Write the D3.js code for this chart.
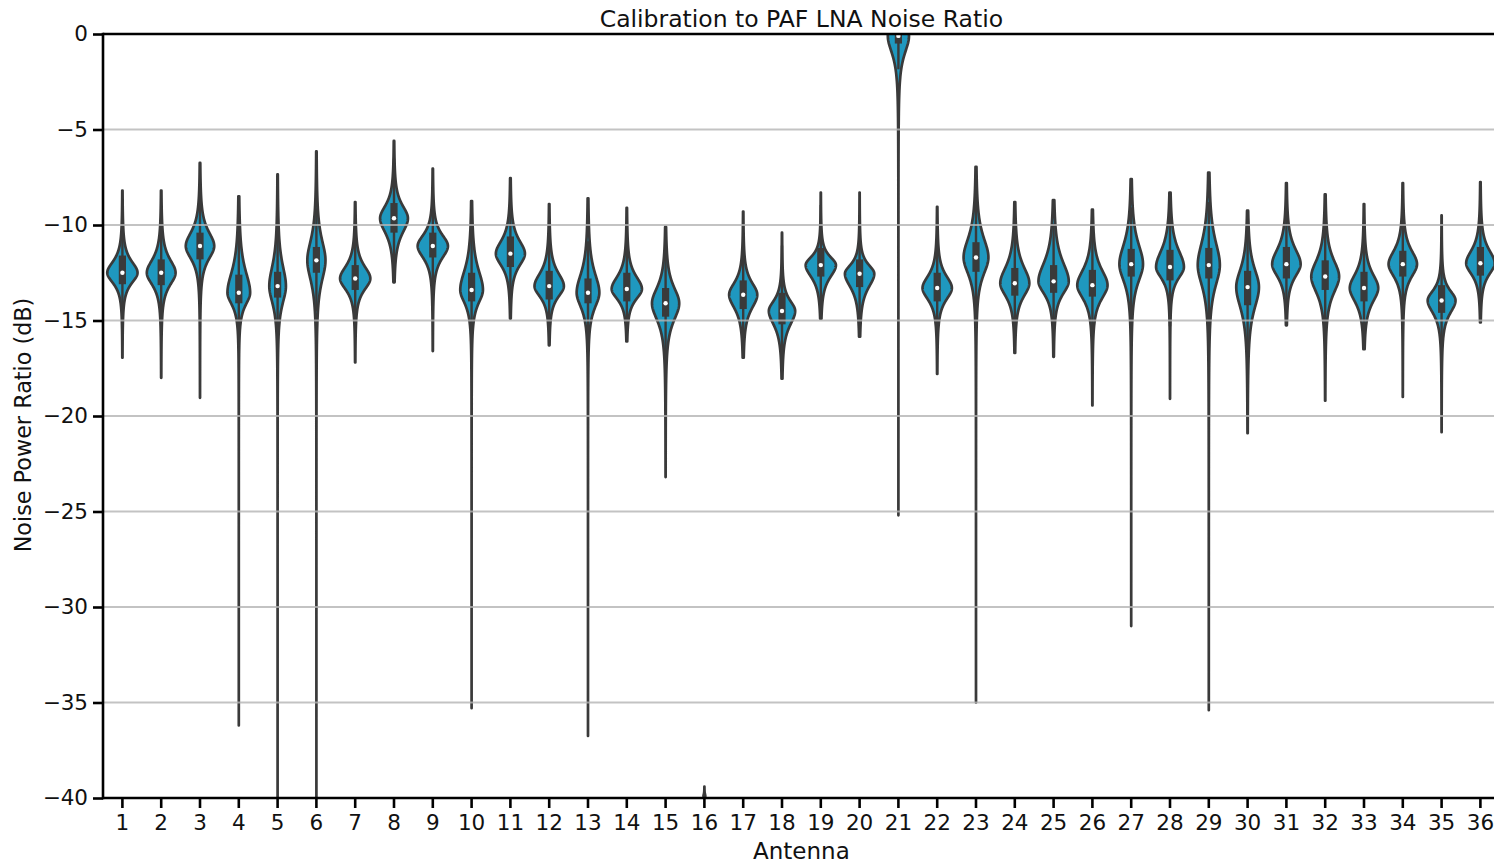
<!DOCTYPE html>
<html>
<head>
<meta charset="utf-8">
<script src="https://cdn.jsdelivr.net/npm/d3@7"></script>
<style>
  html, body { margin: 0; padding: 0; background: #ffffff; }
  svg { display: block; font-family: "DejaVu Sans", sans-serif; }
</style>
</head>
<body>
<svg id="chart" width="1494" height="867"></svg>
<script>
// ---------------- data ----------------
const antennas = ["1","2","3","4","5","6","7","8","9","10","11","12","13","14","15","16","17","18",
                  "19","20","21","22","23","24","25","26","27","28","29","30","31","32","33","34","35","36"];
const yTicks = [0, -5, -10, -15, -20, -25, -30, -35, -40];

const medians = [-12.5,-12.5,-11.1,-13.55,-13.2,-11.85,-12.8,-9.65,-11.1,-13.4,-11.5,-13.2,-13.55,-13.35,-14.1,-39.9,
                 -13.65,-14.5,-12.1,-12.55,-0.1,-13.3,-11.7,-13.05,-12.95,-13.15,-12.05,-12.2,-12.1,-13.25,-12.05,-12.7,-13.3,-12.05,-13.95,-12.0];
const q3s = [-11.6,-11.8,-10.4,-12.6,-12.45,-11.15,-12.1,-8.85,-10.4,-12.5,-10.6,-12.4,-12.8,-12.5,-13.3,-39.8,
             -12.9,-13.55,-11.2,-11.8,0.4,-12.5,-10.9,-12.25,-12.1,-12.35,-11.25,-11.3,-11.2,-12.4,-11.15,-11.85,-12.45,-11.35,-13.15,-11.15];
const q1s = [-13.1,-13.15,-11.8,-14.1,-13.8,-12.5,-13.4,-10.4,-11.7,-14.0,-12.2,-13.9,-14.1,-14.0,-14.8,-39.95,
             -14.4,-15.2,-12.7,-13.25,-0.5,-14.0,-12.45,-13.7,-13.55,-13.75,-12.7,-12.9,-12.8,-14.2,-12.8,-13.4,-14.0,-12.7,-14.6,-12.65];
const maxs = [-8.2,-8.2,-6.75,-8.5,-7.35,-6.15,-8.8,-5.6,-7.05,-8.75,-7.55,-8.9,-8.6,-9.1,-10.1,-39.4,
              -9.3,-10.4,-8.3,-8.3,1.5,-9.05,-6.95,-8.8,-8.7,-9.2,-7.6,-8.3,-7.25,-9.25,-7.8,-8.4,-8.9,-7.8,-9.5,-7.75];
const mins = [-16.95,-18.0,-19.05,-36.2,-45,-45,-17.2,-13.0,-16.6,-35.3,-14.9,-16.3,-36.75,-16.1,-23.2,-40.5,
              -16.95,-18.05,-14.9,-15.85,-25.2,-17.8,-35.0,-16.7,-16.9,-19.45,-31.0,-19.1,-35.4,-20.9,-15.25,-19.2,-16.5,-19.0,-20.85,-15.1];
// where the violin body narrows into its upper / lower tail
const upperNecks = [-11.3,-11.1,-9.6,-11.3,-11.0,-9.7,-11.5,-8.3,-9.9,-11.3,-10.1,-11.8,-11.5,-12.0,-12.4,-39.7,
                    -12.35,-13.4,-11.2,-11.6,1.0,-12.0,-9.6,-11.3,-10.9,-11.5,-9.9,-10.4,-9.6,-11.3,-10.4,-10.95,-11.8,-10.6,-12.9,-10.6];
const lowerNecks = [-13.6,-13.8,-12.5,-14.8,-15.0,-14.0,-14.0,-11.2,-12.4,-14.8,-12.8,-14.35,-15.1,-14.45,-15.9,-40.0,
                    -15.1,-16.0,-13.4,-14.0,-1.9,-14.55,-13.5,-14.45,-14.3,-14.6,-13.9,-13.4,-14.3,-15.5,-13.4,-14.45,-14.8,-13.4,-15.3,-13.2];
// relative peak density (violin width)
const widths = [1.0,0.95,0.94,0.75,0.55,0.6,1.0,0.92,1.0,0.75,0.96,0.97,0.75,1.0,0.9,0.06,
                0.93,0.87,1.0,0.97,0.7,0.97,0.82,0.96,1.0,1.0,0.78,0.92,0.73,0.75,0.94,0.92,0.94,0.94,0.92,0.94];

(function () {
// ---------------- layout ----------------
const W = 1494, H = 867;
const mLeft = 103, mTop = 34, mBottom = 798;
const bandW = 38.8;
const mRight = mLeft + bandW * antennas.length;

const svg = d3.select("#chart");

const x = d3.scaleBand().domain(antennas).range([mLeft, mRight]).padding(0);
const y = d3.scaleLinear().domain([-40, 0]).range([mBottom, mTop]);

const fillColor = "#1f98bf";
const lineColor = "#3a3a3a";

svg.append("defs").append("clipPath").attr("id", "plotclip")
  .append("rect").attr("x", mLeft).attr("y", mTop).attr("width", W - mLeft).attr("height", mBottom - mTop);

// violins
const maxHalf = 0.39 * x.bandwidth();
const NECK_Z = 1.74;
const shape = z => Math.pow(1 + z * z / 2, -1.5);

const data = antennas.map((a, i) => ({
  a, med: medians[i], q1: q1s[i], q3: q3s[i], lo: mins[i], hi: maxs[i],
  sUp: Math.max(0.05, (upperNecks[i] - medians[i]) / NECK_Z),
  sDn: Math.max(0.05, (medians[i] - lowerNecks[i]) / NECK_Z),
  w: widths[i]
}));

const plot = svg.append("g").attr("clip-path", "url(#plotclip)");

data.forEach(d => {
  const cx = x(d.a) + x.bandwidth() / 2;
  const n = 400;
  const pts = d3.range(n + 1).map(k => {
    const v = d.lo + (d.hi - d.lo) * k / n;
    const z = v >= d.med ? (v - d.med) / d.sUp : (d.med - v) / d.sDn;
    return { v, hw: d.w * maxHalf * shape(z) };
  });
  const area = d3.area()
    .x0(p => cx - p.hw).x1(p => cx + p.hw)
    .y(p => y(p.v))
    .curve(d3.curveLinear);
  const g = plot.append("g");
  g.append("path").datum(pts).attr("d", area)
    .attr("fill", fillColor).attr("stroke", lineColor).attr("stroke-width", 2.7)
    .attr("stroke-linejoin", "round");
  if (d.w > 0.2) {
    const iqr = d.q3 - d.q1;
    const wLo = Math.max(d.lo, d.q1 - 1.5 * iqr);
    const wHi = Math.min(d.hi, d.q3 + 1.5 * iqr);
    g.append("line").attr("x1", cx).attr("x2", cx).attr("y1", y(wLo)).attr("y2", y(wHi))
      .attr("stroke", lineColor).attr("stroke-width", 2.4);
    g.append("rect").attr("x", cx - 3.6).attr("width", 7.2)
      .attr("y", y(d.q3)).attr("height", y(d.q1) - y(d.q3))
      .attr("fill", lineColor);
    g.append("circle").attr("cx", cx).attr("cy", y(d.med)).attr("r", 2.2).attr("fill", "#ffffff");
  }
});

// grid (drawn over the violins, light)
svg.append("g")
  .selectAll("line").data(yTicks.filter(t => t !== 0 && t !== -40)).join("line")
  .attr("x1", mLeft).attr("x2", W)
  .attr("y1", d => y(d)).attr("y2", d => y(d))
  .attr("stroke", "#b4b4b4").attr("stroke-opacity", 0.8).attr("stroke-width", 2);

// spines
const spine = svg.append("g").attr("stroke", "#000").attr("stroke-width", 2.6);
spine.append("line").attr("x1", mLeft).attr("x2", mLeft).attr("y1", mTop - 1.3).attr("y2", mBottom + 1.3);
spine.append("line").attr("x1", mLeft).attr("x2", W).attr("y1", mTop).attr("y2", mTop);
spine.append("line").attr("x1", mLeft).attr("x2", W).attr("y1", mBottom).attr("y2", mBottom);

// axes
const fmt = d => (d < 0 ? "\u2212" + Math.abs(d) : String(d));
const yAxis = d3.axisLeft(y).tickValues(yTicks).tickFormat(fmt).tickSize(10).tickPadding(5);
const gy = svg.append("g").attr("transform", `translate(${mLeft},0)`).call(yAxis);
gy.select(".domain").remove();
gy.selectAll(".tick line").attr("stroke", "#000").attr("stroke-width", 2.6);
gy.selectAll(".tick text").attr("font-size", 21.5).attr("fill", "#111")
  .attr("font-family", "DejaVu Sans, sans-serif");

const xAxis = d3.axisBottom(x).tickSize(10).tickPadding(7);
const gx = svg.append("g").attr("transform", `translate(0,${mBottom})`).call(xAxis);
gx.select(".domain").remove();
gx.selectAll(".tick line").attr("stroke", "#000").attr("stroke-width", 2.6);
gx.selectAll(".tick text").attr("font-size", 21.5).attr("fill", "#111")
  .attr("font-family", "DejaVu Sans, sans-serif");

// labels
svg.append("text").attr("x", (mLeft + mRight) / 2).attr("y", 859)
  .attr("text-anchor", "middle").attr("font-size", 23).attr("fill", "#111").text("Antenna");
svg.append("text").attr("transform", `translate(31,${(mTop + mBottom) / 2 + 9}) rotate(-90)`)
  .attr("text-anchor", "middle").attr("font-size", 22.3).attr("fill", "#111").text("Noise Power Ratio (dB)");
svg.append("text").attr("x", (mLeft + mRight) / 2).attr("y", 27)
  .attr("text-anchor", "middle").attr("font-size", 23.5).attr("fill", "#111").text("Calibration to PAF LNA Noise Ratio");
})();
</script>
</body>
</html>
